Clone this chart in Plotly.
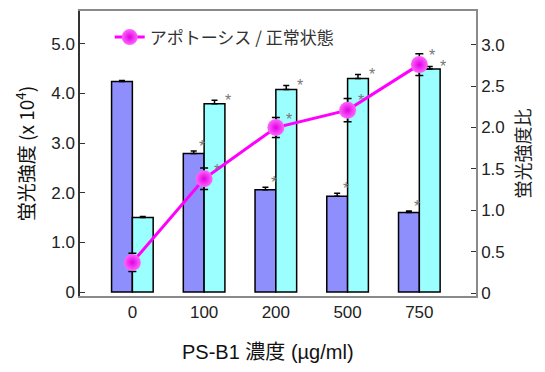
import plotly.graph_objects as go

# PS-B1 dose groups (µg/ml)
doses = ["0", "100", "200", "500", "750"]

# fluorescence intensity (x 10^4), left axis
apoptosis_fl = [4.24, 2.79, 2.06, 1.93, 1.60]
apoptosis_err = [0.02, 0.05, 0.05, 0.06, 0.03]
normal_fl = [1.50, 3.79, 4.08, 4.30, 4.49]
normal_err = [0.02, 0.07, 0.08, 0.08, 0.05]

# apoptosis / normal intensity ratio, right axis
ratio = [0.37, 1.38, 2.00, 2.21, 2.76]
ratio_err = [0.11, 0.13, 0.12, 0.14, 0.13]

# significance flags (*) per group
sig_apoptosis = [False, True, True, True, True]
sig_normal = [False, True, True, True, True]
sig_ratio = [False, True, True, True, True]

left_ticks = [0, 1, 2, 3, 4, 5]
left_ticktext = ["0", "1.0", "2.0", "3.0", "4.0", "5.0"]
right_ticks = [0, 0.5, 1.0, 1.5, 2.0, 2.5, 3.0]
right_ticktext = ["0", "0.5", "1.0", "1.5", "2.0", "2.5", "3.0"]

FONT = "Liberation Sans, Arial, Noto Sans CJK JP, sans-serif"
CJK = "Noto Sans CJK JP, Liberation Sans, sans-serif"

fig = go.Figure()

bar_err = dict(type="data", symmetric=False, color="black", thickness=1.5, width=3)

fig.add_trace(go.Bar(
    x=doses, y=apoptosis_fl,
    error_y=dict(bar_err, array=apoptosis_err, arrayminus=[0] * len(doses)),
    marker=dict(color="#8e8efc", line=dict(color="black", width=1.5)),
    showlegend=False, yaxis="y",
))
fig.add_trace(go.Bar(
    x=doses, y=normal_fl,
    error_y=dict(bar_err, array=normal_err, arrayminus=[0] * len(doses)),
    marker=dict(color="#9cffff", line=dict(color="black", width=1.5)),
    showlegend=False, yaxis="y",
))
fig.add_trace(go.Scatter(
    x=doses, y=ratio, yaxis="y2", mode="lines+markers",
    name="アポトーシス / 正常状態",
    line=dict(color="#ff00ff", width=3),
    marker=dict(size=17, color="#ff66ff",
                gradient=dict(type="radial", color="#e000e0"),
                line=dict(width=0)),
    error_y=dict(type="data", array=ratio_err, color="black", thickness=1.5, width=4),
))

# significance asterisks (category axis positions given by index)
ast_font = dict(family=FONT, size=16, color="#777777")
annotations = []
for i, (v, e, s) in enumerate(zip(apoptosis_fl, apoptosis_err, sig_apoptosis)):
    if s:
        annotations.append(dict(x=i, y=v + e, yref="y", xref="x", text="*", showarrow=False,
                                xshift=-2, yshift=5, font=ast_font))
for i, (v, e, s) in enumerate(zip(normal_fl, normal_err, sig_normal)):
    if s:
        annotations.append(dict(x=i, y=v + e, yref="y", xref="x", text="*", showarrow=False,
                                xshift=24, yshift=0, font=ast_font))
for i, (v, e, s) in enumerate(zip(ratio, ratio_err, sig_ratio)):
    if s:
        annotations.append(dict(x=i, y=v + e, yref="y2", xref="x", text="*", showarrow=False,
                                xshift=13, yshift=-2, font=ast_font))

# x-axis title
annotations.append(dict(x=0.475, y=-0.195, xref="paper", yref="paper", xanchor="center",
                        yanchor="middle", showarrow=False, text="PS-B1 濃度 (µg/ml)",
                        font=dict(family=FONT, size=20, color="#111111")))

fig.update_layout(
    width=545, height=372,
    margin=dict(l=80, r=69, t=9, b=76),
    paper_bgcolor="white", plot_bgcolor="white",
    font=dict(family=FONT, size=17, color="#222222"),
    barmode="group", bargap=0.42, bargroupgap=0,
    annotations=annotations,
    legend=dict(x=0.075, y=0.97, xanchor="left", yanchor="top",
                bgcolor="rgba(0,0,0,0)", font=dict(family=CJK, size=17, color="#333333")),
    xaxis=dict(
        type="category", range=[-0.73, 4.79],
        showline=True, linecolor="#8a8a8a", linewidth=1.5, mirror=True,
        ticks="", showgrid=False,
        tickfont=dict(size=17),
    ),
    yaxis=dict(
        range=[-0.08, 5.66], tickvals=left_ticks, ticktext=left_ticktext,
        showline=True, linecolor="#333333", linewidth=1.5,
        ticks="inside", ticklen=5, tickcolor="#333333", showgrid=False, zeroline=False,
        tickfont=dict(size=17),
        title=dict(text="蛍光強度 (x 10<sup>4</sup>)", font=dict(family=CJK, size=19, color="#111111"),
                   standoff=12),
    ),
    yaxis2=dict(
        overlaying="y", side="right",
        range=[-0.036, 3.408], tickvals=right_ticks, ticktext=right_ticktext,
        showline=True, linecolor="#8a8a8a", linewidth=1.5,
        ticks="inside", ticklen=5, tickcolor="#333333", showgrid=False, zeroline=False,
        tickfont=dict(size=17),
        title=dict(text="蛍光強度比", font=dict(family=CJK, size=18, color="#222222"),
                   standoff=14),
    ),
)

fig.write_html("out.html")
